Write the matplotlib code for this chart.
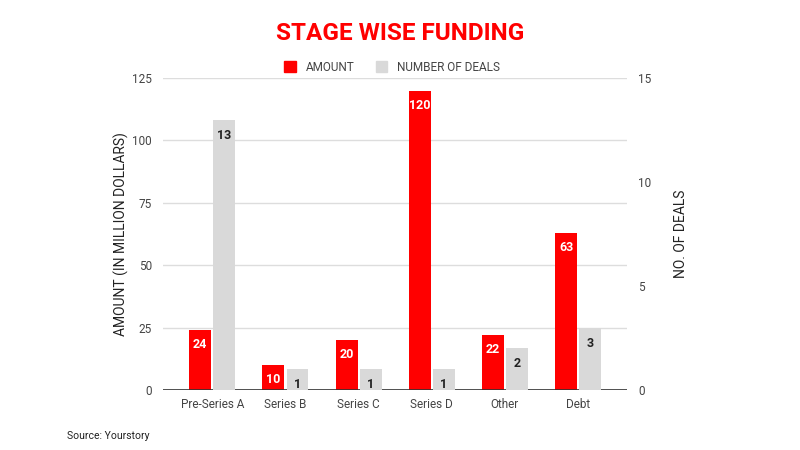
import numpy as np
import matplotlib.pyplot as plt
from matplotlib.patches import Patch

plt.rcParams['font.family'] = ['Roboto', 'DejaVu Sans']

stages = ["Pre-Series A", "Series B", "Series C", "Series D", "Other", "Debt"]
amount = [24, 10, 20, 120, 22, 63]
deals = [13, 1, 1, 1, 2, 3]

RED = "#ff0000"
GREY = "#d9d9d9"
TXT = "#444444"

fig = plt.figure(figsize=(8, 4.5), dpi=100)
ax = fig.add_axes([0.204, 0.1333, 0.58, 0.6933])
ax2 = ax.twinx()

x = np.arange(len(stages))
w = 0.30
gap = 0.015
ax.bar(x - w / 2 - gap, amount, width=w, color=RED, zorder=3)
ax2.bar(x + w / 2 + gap, deals, width=w, color=GREY, zorder=3)

for xi, v in zip(x, amount):
    ax.annotate(str(v), (xi - w / 2 - gap, v), xytext=(0, -6), textcoords="offset points",
                ha="center", va="top", color="white", fontsize=9, fontweight="bold", zorder=4)
for xi, v in zip(x, deals):
    ax2.annotate(str(v), (xi + w / 2 + gap, v), xytext=(0, -6.5), textcoords="offset points",
                 ha="center", va="top", color="#222222", fontsize=9, fontweight="bold", zorder=4)

ax.set_xlim(-0.67, 5.67)
ax.set_ylim(0, 125)
ax2.set_ylim(0, 15)
ax.set_yticks([0, 25, 50, 75, 100, 125])
ax2.set_yticks([0, 5, 10, 15])
ax.set_xticks(x)
ax.set_xticklabels(stages)

ax.grid(axis="y", color="#dddddd", linewidth=1, zorder=0)
ax.set_axisbelow(True)
for a in (ax, ax2):
    for s in a.spines.values():
        s.set_visible(False)
    a.tick_params(length=0, labelsize=8.5, labelcolor=TXT, pad=8)
ax.axhline(0, color="#333333", linewidth=1.2, zorder=5)
ax.tick_params(axis="x", pad=6)

ax.set_ylabel("AMOUNT (IN MILLION DOLLARS)", fontsize=10, color="#222222", labelpad=2)
ax2.set_ylabel("NO. OF DEALS", fontsize=10, color="#222222", labelpad=16)

fig.text(0.5, 0.925, "STAGE WISE FUNDING", ha="center", va="center", color=RED,
         fontsize=17.5, fontweight="bold")

handles = [Patch(color=RED), Patch(color=GREY)]
fig.legend(handles, ["AMOUNT", "NUMBER OF DEALS"], loc="center", bbox_to_anchor=(0.49, 0.851),
           ncol=2, frameon=False, fontsize=8.5, handlelength=1.0, handleheight=1.0,
           columnspacing=1.8, handletextpad=0.8, labelcolor=TXT)

fig.text(0.084, 0.031, "Source: Yourstory", ha="left", va="center", fontsize=7.5, color="#222222")

fig.savefig("out.png", dpi=100)
